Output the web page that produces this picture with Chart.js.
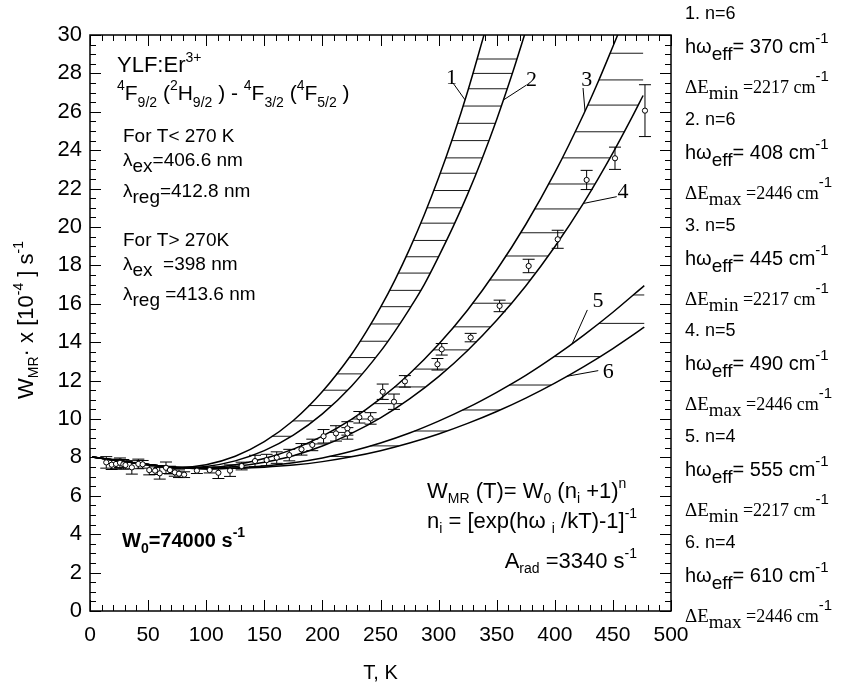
<!DOCTYPE html>
<html>
<head>
<meta charset="utf-8">
<title>YLF:Er3+ W_MR vs T</title>
<script src="https://cdn.jsdelivr.net/npm/chart.js@4.4.1/dist/chart.umd.min.js"></script>
<style>
  html, body { margin: 0; padding: 0; background: #fff; }
  canvas { display: block; }
</style>
</head>
<body>
<canvas id="wmrChart" width="842" height="689"></canvas>
<script>
// model curves, W_MR in 10^4 s^-1 against T in K
var curve1T = [2, 25, 50, 75, 100, 125, 150, 175, 200, 225, 237.5, 250, 262.5, 275, 287.5, 300, 312.5, 325, 340];
var curve1W = [8.02, 7.83, 7.63, 7.47, 7.62, 8.06, 8.82, 9.92, 11.43, 13.36, 14.52, 15.81, 17.25, 18.85, 20.61, 22.56, 24.70, 27.06, 30.2];

var curve2T = [2, 25, 50, 75, 100, 125, 150, 175, 200, 225, 250, 262.5, 275, 287.5, 300, 312.5, 325, 337.5, 350, 362.5, 376];
var curve2W = [8.02, 7.83, 7.63, 7.47, 7.53, 7.82, 8.35, 9.16, 10.27, 11.71, 13.52, 14.58, 15.74, 16.99, 18.46, 20.02, 21.71, 23.57, 25.60, 27.82, 30.4];

var curve3T = [2, 25, 50, 75, 100, 125, 150, 175, 200, 225, 250, 275, 300, 325, 350, 375, 400, 425, 437.5, 450, 456];
var curve3W = [8.02, 7.83, 7.63, 7.47, 7.46, 7.62, 7.94, 8.43, 9.11, 9.98, 11.06, 12.36, 13.89, 15.68, 17.76, 20.13, 22.83, 25.9, 27.59, 29.4, 30.28];

var curve4T = [2, 25, 50, 75, 100, 125, 150, 175, 200, 225, 250, 275, 300, 325, 350, 375, 400, 425, 450, 465, 476];
var curve4W = [8.02, 7.83, 7.63, 7.47, 7.43, 7.53, 7.75, 8.09, 8.59, 9.25, 10.06, 11.05, 12.21, 13.57, 15.14, 16.93, 18.97, 21.27, 23.86, 25.55, 26.85];

var curve5T = [2, 25, 50, 75, 100, 125, 150, 175, 200, 225, 250, 275, 300, 325, 350, 375, 400, 425, 450, 477];
var curve5W = [8.02, 7.83, 7.63, 7.47, 7.41, 7.45, 7.55, 7.72, 7.97, 8.32, 8.75, 9.27, 9.89, 10.59, 11.39, 12.27, 13.27, 14.37, 15.56, 16.95];

var curve6T = [2, 25, 50, 75, 100, 125, 150, 175, 200, 225, 250, 275, 300, 325, 350, 375, 400, 425, 450, 477];
var curve6W = [8.02, 7.83, 7.63, 7.47, 7.40, 7.43, 7.49, 7.60, 7.78, 8.03, 8.35, 8.75, 9.22, 9.77, 10.39, 11.09, 11.87, 12.73, 13.67, 14.78];

// measured points with error bars
var measT = [14, 18.7, 22.4, 25.8, 28.7, 30.5, 36, 41.6, 45.3, 51, 56, 60, 65.4, 68.8, 73, 76.6, 81, 92, 103, 110.5, 120.5, 130.5, 142, 152, 160.7, 171.5, 182, 191.3, 201, 211.7, 221.5, 221.5, 231.8, 241.5, 251.9, 261.6, 271, 299, 302.7, 327.6, 352.5, 377.5, 402.5, 427.4, 451.8, 477.6];
var measW = [7.74, 7.62, 7.66, 7.72, 7.64, 7.6, 7.48, 7.66, 7.64, 7.34, 7.31, 7.17, 7.46, 7.34, 7.22, 7.15, 7.1, 7.31, 7.34, 7.2, 7.31, 7.55, 7.81, 7.86, 7.99, 8.12, 8.42, 8.65, 9.1, 9.25, 9.51, 9.25, 10.09, 10.03, 11.42, 10.9, 11.96, 12.85, 13.63, 14.24, 15.89, 17.97, 19.36, 22.45, 23.58, 26.06];
var measErr = [0.3, 0.25, 0.25, 0.25, 0.25, 0.2, 0.35, 0.25, 0.2, 0.25, 0.2, 0.3, 0.3, 0.2, 0.2, 0.2, 0.15, 0.15, 0.15, 0.3, 0.3, 0.2, 0.3, 0.3, 0.3, 0.3, 0.3, 0.3, 0.35, 0.4, 0.35, 0.3, 0.3, 0.3, 0.4, 0.4, 0.3, 0.3, 0.3, 0.22, 0.3, 0.35, 0.47, 0.5, 0.58, 1.35];

// W levels of the horizontal hatching inside each band
var hatch12 = [9.1, 9.9, 10.7, 11.5, 12.35, 13.2, 14.05, 14.95, 15.85, 16.7, 17.6, 18.45, 19.3, 20.2, 21.0, 21.9, 22.8, 23.6, 24.5, 25.4, 26.3, 27.2, 28.0, 28.75];
var hatch34 = [8.7, 9.3, 10.0, 10.8, 11.67, 12.6, 13.6, 14.8, 16.03, 17.24, 18.49, 19.7, 20.94, 22.24, 23.6, 24.96, 26.35, 27.66, 29.05];
var hatch56 = [8.05, 8.6, 9.375, 10.47, 11.77, 13.25, 14.98, 16.46];

// curve numbers and their leader lines (data units)
var curveLabels = ['1', '2', '3', '4', '5', '6'];
var labelT = [311, 380, 427.4, 458.7, 437.2, 446];
var labelW = [27.76, 27.66, 27.66, 21.82, 16.16, 12.46];
var leaderFromT = [312.4, 375.8, 424.3, 453.3, 428, 437.4];
var leaderFromW = [27.5, 27.4, 27.24, 21.58, 15.68, 12.52];
var leaderToT = [322.7, 355.7, 426, 424.5, 415, 410.2];

// parameter list on the right
var legendN = ['1. n=6', '2. n=6', '3. n=5', '4. n=5', '5. n=4', '6. n=4'];
var legendHw = ['370', '408', '445', '490', '555', '610'];
var legendDE = ['min', 'max', 'min', 'max', 'min', 'max'];
var legendDEval = ['2217', '2446', '2217', '2446', '2217', '2446'];

var SANS = '"Liberation Sans", Arial, sans-serif';
var SERIF = '"Liberation Serif", "Times New Roman", serif';

var curves = [
  [curve1T, curve1W], [curve2T, curve2W], [curve3T, curve3W],
  [curve4T, curve4W], [curve5T, curve5W], [curve6T, curve6W]
];
var bands = [[0, 1, hatch12], [2, 3, hatch34], [4, 5, hatch56]];

function toXY(ts, ws) {
  return ts.map(function (t, i) { return { x: t, y: ws[i] }; });
}

function wOnCurve(c, t) {
  var ts = c[0], ws = c[1];
  for (var i = 1; i < ts.length; i++) {
    if (t <= ts[i]) return ws[i - 1] + (t - ts[i - 1]) / (ts[i] - ts[i - 1]) * (ws[i] - ws[i - 1]);
  }
  return ws[ws.length - 1];
}

// T where the rising part of a curve reaches level w (clamped at curve end)
function tOnCurve(c, w) {
  var ts = c[0], ws = c[1];
  if (w >= ws[ws.length - 1]) return ts[ts.length - 1];
  for (var i = ts.length - 1; i > 0; i--) {
    if (ts[i - 1] < 90) break;
    if (w >= ws[i - 1] && w <= ws[i]) {
      return ts[i - 1] + (w - ws[i - 1]) / (ws[i] - ws[i - 1]) * (ts[i] - ts[i - 1]);
    }
  }
  return null;
}

function font(size, fam, bold) {
  return (bold ? 'bold ' : '') + size + 'px ' + (fam || SANS);
}

// parts: [text, size, dy, family, bold]
function rich(ctx, x, y, parts, align) {
  var w = 0;
  parts.forEach(function (p) { ctx.font = font(p[1], p[3], p[4]); w += ctx.measureText(p[0]).width; });
  if (align === 'right') x -= w;
  if (align === 'center') x -= w / 2;
  parts.forEach(function (p) {
    ctx.font = font(p[1], p[3], p[4]);
    ctx.fillText(p[0], x, y + (p[2] || 0));
    x += ctx.measureText(p[0]).width;
  });
}

var annotations = [
  { x: 117, y: 72, parts: [['YLF:Er', 22], ['3+', 14, -10]] },
  { x: 117, y: 100, parts: [['4', 14, -10], ['F', 21], ['9/2', 14, 7], [' (', 21], ['2', 14, -10], ['H', 21], ['9/2', 14, 7], [' ) - ', 21], ['4', 14, -10], ['F', 21], ['3/2', 14, 7], [' (', 21], ['4', 14, -10], ['F', 21], ['5/2', 14, 7], [' )', 21]] },
  { x: 123, y: 142, parts: [['For T< 270 K', 19]] },
  { x: 123, y: 166, parts: [['λ', 19], ['ex', 19, 6], ['=406.6 nm', 19]] },
  { x: 123, y: 197, parts: [['λ', 19], ['reg', 19, 6], ['=412.8 nm', 19]] },
  { x: 123, y: 246, parts: [['For T> 270K', 19]] },
  { x: 123, y: 270, parts: [['λ', 19], ['ex', 19, 6], ['  =398 nm', 19]] },
  { x: 123, y: 300, parts: [['λ', 19], ['reg', 19, 6], [' =413.6 nm', 19]] },
  { x: 122, y: 547, parts: [['W', 20, 0, SANS, true], ['0', 14, 6, SANS, true], ['=74000 s', 20, 0, SANS, true], ['-1', 14, -10, SANS, true]] },
  { x: 427, y: 498, parts: [['W', 22], ['MR', 14, 5], [' (T)= W', 22], ['0', 14, 5], [' (n', 22], ['i', 14, 5], [' +1)', 22], ['n', 14, -10]] },
  { x: 427, y: 528, parts: [['n', 22], ['i', 14, 5], [' = [exp(hω ', 22], ['i', 14, 5], [' /kT)-1]', 22], ['-1', 14, -10]] },
  { x: 637, y: 568, align: 'right', parts: [['A', 22], ['rad', 14, 5], [' =3340 s', 22], ['-1', 14, -10]] }
];

var underlay = {
  id: 'underlay',
  beforeDatasetsDraw: function (chart) {
    var ctx = chart.ctx, xs = chart.scales.x, ys = chart.scales.y, a = chart.chartArea;
    ctx.save();
    ctx.beginPath();
    ctx.rect(a.left, a.top, a.width, a.height);
    ctx.clip();
    ctx.strokeStyle = '#1a1a1a';
    ctx.lineWidth = 1;
    // hatching between paired curves
    bands.forEach(function (b) {
      b[2].forEach(function (w) {
        var t1 = tOnCurve(curves[b[0]], w), t2 = tOnCurve(curves[b[1]], w);
        if (t1 === null || t2 === null) return;
        var py = ys.getPixelForValue(w);
        ctx.beginPath();
        ctx.moveTo(xs.getPixelForValue(t1), py);
        ctx.lineTo(xs.getPixelForValue(t2), py);
        ctx.stroke();
      });
    });
    // error bars
    ctx.strokeStyle = '#000';
    measT.forEach(function (t, i) {
      var px = xs.getPixelForValue(t);
      var top = ys.getPixelForValue(measW[i] + measErr[i]);
      var bot = ys.getPixelForValue(measW[i] - measErr[i]);
      ctx.beginPath();
      ctx.moveTo(px, top); ctx.lineTo(px, bot);
      ctx.moveTo(px - 6, top); ctx.lineTo(px + 6, top);
      ctx.moveTo(px - 6, bot); ctx.lineTo(px + 6, bot);
      ctx.stroke();
    });
    // leader lines for the curve numbers
    curveLabels.forEach(function (lab, i) {
      ctx.beginPath();
      ctx.moveTo(xs.getPixelForValue(leaderFromT[i]), ys.getPixelForValue(leaderFromW[i]));
      ctx.lineTo(xs.getPixelForValue(leaderToT[i]), ys.getPixelForValue(wOnCurve(curves[i], leaderToT[i])));
      ctx.stroke();
    });
    ctx.restore();
  }
};

var overlay = {
  id: 'overlay',
  afterDraw: function (chart) {
    var ctx = chart.ctx, xs = chart.scales.x, ys = chart.scales.y, a = chart.chartArea;
    ctx.save();
    ctx.strokeStyle = '#000';
    ctx.lineWidth = 1;
    ctx.beginPath();
    for (var t = 0; t <= 500; t += 10) {
      var px = Math.round(xs.getPixelForValue(t)) + 0.5;
      var lx = t % 50 === 0 ? 11 : 6;
      ctx.moveTo(px, a.bottom); ctx.lineTo(px, a.bottom - lx);
      ctx.moveTo(px, a.top); ctx.lineTo(px, a.top + lx);
    }
    for (var v = 0; v <= 30; v += 0.5) {
      var py = Math.round(ys.getPixelForValue(v)) + 0.5;
      var ly = v % 2 === 0 ? 11 : 6;
      ctx.moveTo(a.left, py); ctx.lineTo(a.left + ly, py);
      ctx.moveTo(a.right, py); ctx.lineTo(a.right - ly, py);
    }
    ctx.stroke();
    ctx.lineWidth = 1.5;
    ctx.strokeRect(a.left, a.top, a.width, a.height);

    ctx.fillStyle = '#000';
    ctx.textBaseline = 'alphabetic';
    annotations.forEach(function (an) { rich(ctx, an.x, an.y, an.parts, an.align); });

    // curve numbers
    ctx.textAlign = 'center';
    ctx.textBaseline = 'middle';
    ctx.font = font(22, SERIF);
    curveLabels.forEach(function (lab, i) {
      ctx.fillText(lab, xs.getPixelForValue(labelT[i]), ys.getPixelForValue(labelW[i]));
    });
    ctx.textAlign = 'left';
    ctx.textBaseline = 'alphabetic';

    // y axis title, rotated
    ctx.save();
    ctx.translate(25, (a.top + a.bottom) / 2 - 3);
    ctx.rotate(-Math.PI / 2);
    rich(ctx, 0, 8, [['W', 22], ['MR', 14, 5], ['· x [10', 22], ['-4', 14, -10], [' ] s', 22], ['-1', 14, -10]], 'center');
    ctx.restore();

    // parameter list at the right
    var lx0 = a.right + 14;
    legendN.forEach(function (n, k) {
      var b = 19 + k * 105.8;
      rich(ctx, lx0, b, [[n, 18]]);
      rich(ctx, lx0, b + 34, [['hω', 20], ['eff', 19, 7], ['= ' + legendHw[k] + ' cm', 20], ['-1', 15, -10]]);
      rich(ctx, lx0, b + 74, [['ΔE', 19, 0, SERIF], [legendDE[k], 19, 6, SERIF], [' =' + legendDEval[k] + ' cm', 18, 0, SERIF], ['-1', 15, -12]]);
    });
    ctx.restore();
  }
};

var curveDatasets = curves.map(function (c) {
  return {
    data: toXY(c[0], c[1]),
    showLine: true,
    borderColor: '#000',
    borderWidth: 1.5,
    pointRadius: 0,
    cubicInterpolationMode: 'monotone',
    clip: 0
  };
});

var ctx = document.getElementById('wmrChart').getContext('2d');
var chart = new Chart(ctx, {
  type: 'scatter',
  data: {
    datasets: [{
      data: toXY(measT, measW),
      pointRadius: 2.6,
      pointBorderWidth: 1,
      pointBackgroundColor: '#fff',
      pointBorderColor: '#000',
      showLine: false
    }].concat(curveDatasets)
  },
  options: {
    responsive: false,
    animation: false,
    layout: { padding: { top: 35, right: 171, bottom: 0, left: 0 } },
    plugins: { legend: { display: false }, tooltip: { enabled: false } },
    scales: {
      x: {
        type: 'linear', min: 0, max: 500,
        grid: { display: false, drawTicks: false }, border: { display: false },
        ticks: { stepSize: 50, color: '#000', padding: 12, font: { size: 21, family: SANS } },
        title: { display: true, text: 'T, K', color: '#000', font: { size: 20, family: SANS }, padding: { top: 0, bottom: 4 } },
        afterFit: function (s) { s.height = 78; }
      },
      y: {
        type: 'linear', min: 0, max: 30,
        grid: { display: false, drawTicks: false }, border: { display: false },
        ticks: { stepSize: 2, color: '#000', padding: 8, font: { size: 22, family: SANS } },
        afterFit: function (s) { s.width = 90; }
      }
    }
  },
  plugins: [underlay, overlay]
});
</script>
</body>
</html>
